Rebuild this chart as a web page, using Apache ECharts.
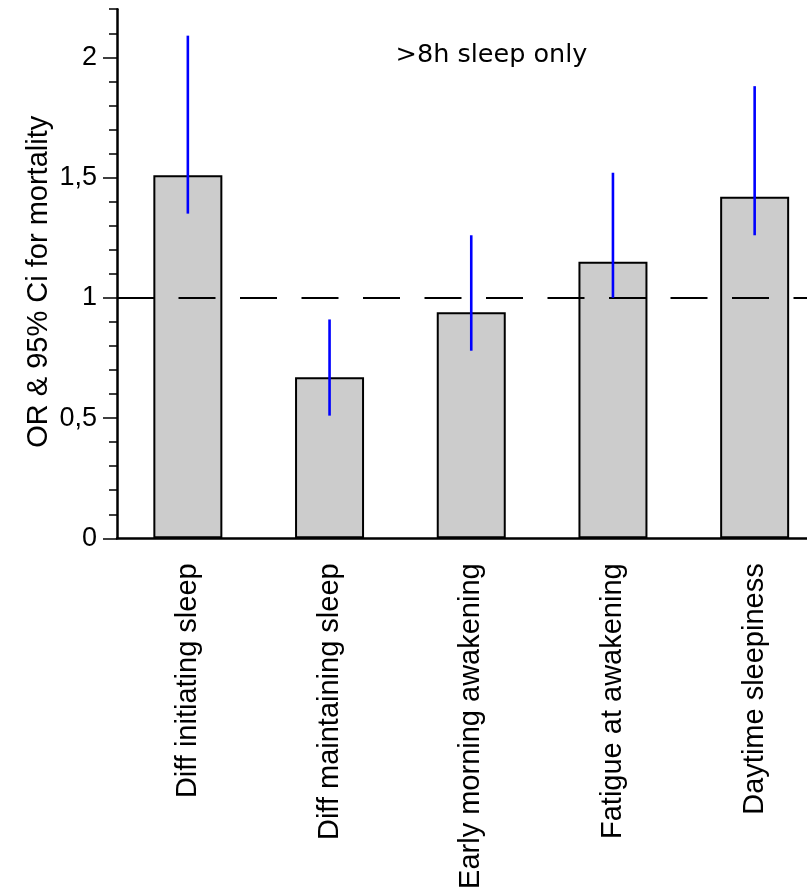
<!DOCTYPE html>
<html>
<head>
<meta charset="utf-8">
<script src="https://cdn.jsdelivr.net/npm/echarts@6/dist/echarts.min.js"></script>
<style>
html,body{margin:0;padding:0;background:#fff;}
#chart{width:807px;height:892px;}
</style>
</head>
<body>
<div id="chart"></div>
<script>
const categories = ['Diff initiating sleep', 'Diff maintaining sleep', 'Early morning awakening', 'Fatigue at awakening', 'Daytime sleepiness'];
const orValues = [1.51, 0.67, 0.94, 1.15, 1.42];
const ciLow = [1.35, 0.51, 0.78, 1.00, 1.26];
const ciHigh = [2.09, 0.91, 1.26, 1.52, 1.88];
const refValue = 1;
const majorTicks = [0, 0.5, 1, 1.5, 2];
const majorTickLabels = ['0', '0,5', '1', '1,5', '2'];
const titleText = '>8h sleep only';
const yName = 'OR & 95% Ci for mortality';

const chart = echarts.init(document.getElementById('chart'), null, {renderer: 'canvas'});
const font = 'Liberation Sans, Arial, Helvetica, sans-serif';

const option = {
  animation: false,
  backgroundColor: '#ffffff',
  title: {
    text: titleText,
    left: 486.5,
    top: 37,
    textAlign: 'center',
    textStyle: {fontFamily: 'DejaVu Sans', fontSize: 25.5, fontWeight: 'normal', color: '#000'}
  },
  grid: {left: 117, top: 9.2, bottom: 353.7, right: -18.5, containLabel: false, outerBoundsMode: 'none'},
  xAxis: {
    type: 'category',
    data: categories,
    boundaryGap: true,
    axisLine: {lineStyle: {color: '#000', width: 2.5}},
    axisTick: {alignWithLabel: true, length: 14, lineStyle: {color: '#555', width: 1.2}},
    axisLabel: {rotate: 90, margin: 25, fontFamily: font, fontSize: 29, color: '#000', interval: 0}
  },
  yAxis: [
    {
      type: 'value',
      min: 0,
      max: 2.2,
      interval: 0.1,
      splitLine: {show: false},
      axisLine: {show: true, lineStyle: {color: '#000', width: 2.5}},
      axisTick: {show: true, length: 8, lineStyle: {color: '#000', width: 1.5}},
      axisLabel: {show: false},
      name: yName,
      nameLocation: 'middle',
      nameGap: 64,
      nameRotate: 90,
      nameTextStyle: {fontFamily: font, fontSize: 29, color: '#000', padding: [0, 16, 0, 0]}
    },
    {
      type: 'value',
      min: 0,
      max: 2.2,
      position: 'left',
      splitLine: {show: false},
      axisLine: {show: false},
      axisTick: {show: true, length: 14, customValues: majorTicks, lineStyle: {color: '#000', width: 1.5}},
      axisLabel: {
        show: true,
        customValues: majorTicks,
        margin: 20,
        fontFamily: font,
        fontSize: 27,
        color: '#000',
        formatter: function (v) {
          const i = majorTicks.findIndex(t => Math.abs(t - v) < 1e-6);
          return i >= 0 ? majorTickLabels[i] : '';
        }
      }
    }
  ],
  series: [
    {
      type: 'bar',
      data: orValues,
      barWidth: 69,
      yAxisIndex: 0,
      itemStyle: {color: '#cccccc', borderColor: '#000', borderWidth: 2},
      z: 2,
      markLine: {
        silent: true,
        symbol: ['none', 'none'],
        label: {show: false},
        lineStyle: {color: '#000', width: 2, type: [37, 24.5]},
        z: 5,
        data: [{yAxis: refValue}]
      }
    },
    {
      type: 'custom',
      yAxisIndex: 0,
      z: 6,
      data: categories.map((c, i) => [i, ciLow[i], ciHigh[i]]),
      renderItem: function (params, api) {
        const lo = api.coord([api.value(0), api.value(1)]);
        const hi = api.coord([api.value(0), api.value(2)]);
        return {
          type: 'line',
          shape: {x1: lo[0], y1: lo[1], x2: hi[0], y2: hi[1]},
          style: {stroke: '#0000ff', lineWidth: 2.6}
        };
      }
    }
  ]
};
chart.setOption(option);
</script>
</body>
</html>
